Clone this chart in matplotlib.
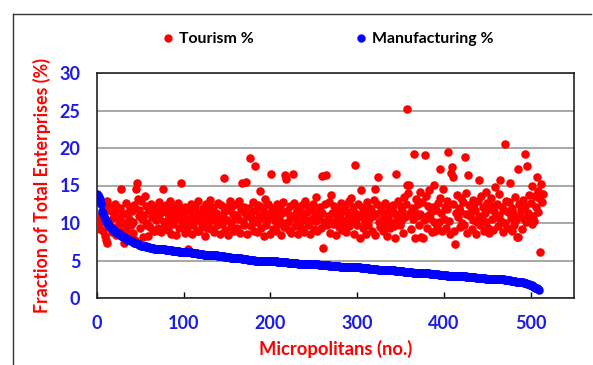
import numpy as np
import matplotlib.pyplot as plt
from matplotlib.lines import Line2D

# Tourism share of total enterprises (%), one value per micropolitan
tourism_pct = [
    9.5, 10.6, 9.8, 10.9, 9.2, 10.3, 11.0, 9.0, 12.6, 8.3, 7.7, 7.3, 12.9, 10.1, 11.8, 9.6, 12.2, 8.8, 10.7, 11.5,
    9.3, 12.5, 8.4, 10.8, 11.9, 9.9, 10.4, 12.0, 14.5, 8.9, 11.2, 7.4, 10.0, 12.7, 9.1, 11.4, 8.6, 10.6, 12.1, 9.7,
    11.6, 10.2, 8.7, 12.4, 7.8, 14.5, 15.4, 13.2, 10.9, 11.8, 9.4, 12.9, 10.5, 8.2, 11.1, 13.6, 9.8, 12.3, 10.0, 8.3,
    11.7, 9.5, 12.6, 10.8, 9.0, 11.3, 12.2, 8.9, 10.4, 11.9, 9.3, 12.8, 10.7, 11.4, 8.8, 12.0, 14.6, 10.1, 9.6, 11.5,
    12.4, 10.3, 9.1, 11.0, 12.9, 8.6, 10.8, 11.7, 9.9, 12.2, 10.5, 8.4, 11.3, 12.7, 9.4, 10.9, 11.8, 15.4, 10.2, 9.7,
    11.4, 12.1, 8.7, 10.6, 9.3, 6.6, 11.9, 10.0, 12.6, 8.5, 11.2, 9.8, 10.7, 12.3, 11.5, 9.0, 10.4, 12.9, 8.9, 11.1,
    10.3, 9.6, 12.0, 11.6, 8.3, 10.8, 12.5, 9.4, 11.3, 10.1, 13.1, 9.2, 11.8, 10.6, 12.2, 8.8, 10.9, 11.4, 9.7, 12.7,
    10.2, 11.0, 8.6, 12.4, 9.9, 10.7, 16.0, 11.5, 9.1, 12.1, 10.4, 8.4, 11.7, 13.0, 10.0, 9.5, 12.3, 11.2, 8.9, 10.8,
    12.6, 9.3, 11.1, 10.5, 12.9, 8.7, 11.9, 15.4, 10.3, 9.8, 12.2, 11.4, 15.5, 8.5, 10.9, 12.0, 18.7, 9.6, 11.3, 10.6,
    12.8, 9.0, 17.6, 11.7, 10.1, 8.8, 12.4, 11.0, 14.3, 9.4, 10.7, 12.1, 8.3, 11.5, 13.2, 9.7, 10.4, 12.6, 11.2, 8.6,
    10.9, 16.6, 12.0, 9.2, 11.8, 10.3, 8.9, 12.5, 11.1, 9.9, 10.6, 12.2, 8.4, 11.4, 10.0, 12.8, 9.5, 16.4, 15.9, 11.6,
    10.2, 9.1, 12.3, 11.0, 8.7, 10.8, 16.5, 12.7, 9.6, 11.3, 10.5, 12.0, 8.5, 11.7, 10.1, 9.3, 12.4, 11.2, 10.7, 8.8,
    12.9, 10.4, 11.5, 9.8, 12.1, 10.0, 8.6, 11.9, 10.6, 12.5, 9.2, 11.1, 10.3, 13.5, 8.9, 11.6, 10.8, 12.2, 9.4, 11.3,
    16.3, 6.7, 10.1, 12.6, 16.4, 9.7, 11.0, 12.8, 10.5, 8.7, 13.8, 11.4, 9.9, 12.3, 10.2, 11.8, 8.4, 10.9, 12.0, 9.5,
    11.2, 12.7, 10.4, 9.1, 11.7, 10.0, 12.4, 8.8, 11.5, 10.7, 12.9, 9.6, 11.0, 13.3, 10.3, 12.1, 8.5, 17.7, 11.3, 10.6,
    9.8, 12.5, 11.1, 8.0, 14.4, 10.8, 12.2, 9.4, 11.6, 10.2, 8.6, 12.8, 11.4, 9.7, 10.5, 12.0, 11.8, 9.0, 10.9, 13.1,
    14.6, 8.4, 11.2, 12.6, 16.1, 10.1, 9.5, 11.7, 12.3, 10.4, 8.9, 11.0, 12.7, 9.9, 8.3, 10.7, 11.5, 12.1, 9.3, 10.0,
    11.9, 12.4, 9.6, 11.3, 8.0, 16.5, 10.6, 12.9, 11.1, 9.8, 10.3, 12.2, 11.6, 8.7, 13.5, 10.8, 12.5, 25.2, 15.1, 14.0,
    15.1, 11.4, 9.2, 12.0, 10.5, 19.2, 11.8, 8.0, 13.2, 10.9, 12.6, 9.7, 14.1, 11.2, 8.1, 12.8, 8.0, 10.4, 19.1, 13.6,
    11.0, 9.4, 12.3, 14.4, 10.7, 11.5, 8.8, 12.1, 10.2, 15.1, 8.9, 11.7, 9.6, 12.7, 10.1, 13.4, 17.2, 11.3, 8.9, 14.6,
    10.6, 12.2, 9.3, 11.9, 13.0, 19.5, 10.3, 8.5, 16.7, 17.5, 16.2, 12.5, 9.0, 7.2, 11.4, 13.7, 10.8, 12.0, 9.5, 11.6,
    13.3, 10.0, 12.8, 9.7, 18.8, 11.2, 14.0, 8.7, 16.4, 12.4, 10.9, 11.5, 9.2, 13.1, 10.4, 12.6, 11.8, 8.6, 10.1, 12.9,
    11.0, 15.7, 9.8, 13.6, 10.6, 12.1, 8.9, 11.4, 14.2, 10.2, 12.7, 9.4, 8.7, 11.9, 13.3, 10.5, 12.3, 9.1, 11.6, 14.8,
    10.8, 12.5, 9.6, 11.1, 13.9, 15.8, 10.3, 12.2, 8.8, 11.7, 20.6, 10.0, 13.0, 9.3, 11.5, 12.8, 15.4, 10.7, 8.9, 12.0,
    11.3, 9.7, 13.5, 10.4, 8.2, 17.2, 8.1, 12.6, 10.9, 11.8, 9.2, 13.1, 10.6, 19.2, 12.3, 10.1, 17.6, 11.4, 13.8, 10.8,
    12.7, 9.9, 14.9, 11.0, 10.3, 13.6, 12.1, 16.2, 11.5, 14.3, 13.4, 6.2, 15.2, 12.8, 13.9,
]

# Manufacturing share (%), sorted descending
manufacturing_pct = [
    13.9, 13.7, 13.5, 13.2, 12.9, 12.6, 11.6, 11.2, 10.9, 10.6, 10.4, 10.2, 10.0, 9.8, 9.7, 9.5, 9.4, 9.3, 9.2, 9.1,
    9.0, 8.9, 8.8, 8.7, 8.7, 8.6, 8.5, 8.4, 8.3, 8.3, 8.2, 8.1, 8.0, 8.0, 7.9, 7.8, 7.8, 7.7, 7.7, 7.6,
    7.6, 7.5, 7.5, 7.4, 7.4, 7.3, 7.3, 7.2, 7.2, 7.1, 7.1, 7.0, 7.0, 7.0, 6.9, 6.9, 6.9, 6.8, 6.8, 6.8,
    6.8, 6.7, 6.7, 6.7, 6.7, 6.7, 6.6, 6.6, 6.6, 6.6, 6.6, 6.6, 6.5, 6.5, 6.5, 6.5, 6.5, 6.5, 6.5, 6.4,
    6.4, 6.4, 6.4, 6.4, 6.4, 6.4, 6.4, 6.3, 6.3, 6.3, 6.3, 6.3, 6.3, 6.3, 6.3, 6.2, 6.2, 6.2, 6.2, 6.2,
    6.2, 6.2, 6.1, 6.1, 6.1, 6.1, 6.1, 6.1, 6.1, 6.0, 6.0, 6.0, 6.0, 6.0, 6.0, 6.0, 5.9, 5.9, 5.9, 5.9,
    5.9, 5.9, 5.9, 5.8, 5.8, 5.8, 5.8, 5.8, 5.8, 5.8, 5.8, 5.7, 5.7, 5.7, 5.7, 5.7, 5.7, 5.7, 5.7, 5.6,
    5.6, 5.6, 5.6, 5.6, 5.6, 5.6, 5.6, 5.5, 5.5, 5.5, 5.5, 5.5, 5.5, 5.5, 5.4, 5.4, 5.4, 5.4, 5.4, 5.4,
    5.4, 5.3, 5.3, 5.3, 5.3, 5.3, 5.3, 5.2, 5.2, 5.2, 5.2, 5.2, 5.2, 5.2, 5.1, 5.1, 5.1, 5.1, 5.1, 5.1,
    5.1, 5.1, 5.0, 5.0, 5.0, 5.0, 5.0, 5.0, 5.0, 5.0, 5.0, 5.0, 4.9, 4.9, 4.9, 4.9, 4.9, 4.9, 4.9, 4.9,
    4.9, 4.9, 4.9, 4.9, 4.9, 4.9, 4.9, 4.9, 4.8, 4.8, 4.8, 4.8, 4.8, 4.8, 4.8, 4.8, 4.8, 4.8, 4.8, 4.8,
    4.7, 4.7, 4.7, 4.7, 4.7, 4.7, 4.7, 4.7, 4.7, 4.7, 4.7, 4.7, 4.6, 4.6, 4.6, 4.6, 4.6, 4.6, 4.6, 4.6,
    4.6, 4.6, 4.6, 4.6, 4.5, 4.5, 4.5, 4.5, 4.5, 4.5, 4.5, 4.5, 4.5, 4.5, 4.5, 4.5, 4.4, 4.4, 4.4, 4.4,
    4.4, 4.4, 4.4, 4.4, 4.4, 4.4, 4.4, 4.4, 4.3, 4.3, 4.3, 4.3, 4.3, 4.3, 4.3, 4.3, 4.3, 4.3, 4.3, 4.3,
    4.2, 4.2, 4.2, 4.2, 4.2, 4.2, 4.2, 4.2, 4.2, 4.2, 4.2, 4.2, 4.1, 4.1, 4.1, 4.1, 4.1, 4.1, 4.1, 4.1,
    4.1, 4.1, 4.1, 4.1, 4.0, 4.0, 4.0, 4.0, 4.0, 4.0, 4.0, 4.0, 4.0, 4.0, 3.9, 3.9, 3.9, 3.9, 3.9, 3.9,
    3.9, 3.9, 3.9, 3.9, 3.8, 3.8, 3.8, 3.8, 3.8, 3.8, 3.8, 3.8, 3.8, 3.8, 3.7, 3.7, 3.7, 3.7, 3.7, 3.7,
    3.7, 3.7, 3.7, 3.7, 3.6, 3.6, 3.6, 3.6, 3.6, 3.6, 3.6, 3.6, 3.6, 3.6, 3.5, 3.5, 3.5, 3.5, 3.5, 3.5,
    3.5, 3.5, 3.5, 3.5, 3.4, 3.4, 3.4, 3.4, 3.4, 3.4, 3.4, 3.4, 3.4, 3.4, 3.3, 3.3, 3.3, 3.3, 3.3, 3.3,
    3.3, 3.3, 3.3, 3.3, 3.2, 3.2, 3.2, 3.2, 3.2, 3.2, 3.2, 3.2, 3.2, 3.2, 3.1, 3.1, 3.1, 3.1, 3.1, 3.1,
    3.1, 3.1, 3.1, 3.1, 3.0, 3.0, 3.0, 3.0, 3.0, 3.0, 3.0, 3.0, 3.0, 3.0, 3.0, 2.9, 2.9, 2.9, 2.9, 2.9,
    2.9, 2.9, 2.9, 2.9, 2.9, 2.9, 2.8, 2.8, 2.8, 2.8, 2.8, 2.8, 2.8, 2.8, 2.8, 2.8, 2.8, 2.7, 2.7, 2.7,
    2.7, 2.7, 2.7, 2.7, 2.7, 2.7, 2.7, 2.7, 2.6, 2.6, 2.6, 2.6, 2.6, 2.6, 2.6, 2.6, 2.6, 2.6, 2.6, 2.5,
    2.5, 2.5, 2.5, 2.5, 2.5, 2.5, 2.5, 2.5, 2.5, 2.5, 2.4, 2.4, 2.4, 2.4, 2.4, 2.4, 2.4, 2.3, 2.3, 2.3,
    2.3, 2.3, 2.3, 2.2, 2.2, 2.2, 2.2, 2.2, 2.1, 2.1, 2.1, 2.1, 2.0, 2.0, 2.0, 2.0, 1.9, 1.9, 1.9, 1.8,
    1.8, 1.7, 1.6, 1.6, 1.5, 1.4, 1.4, 1.3, 1.2, 1.2, 1.1,
]

X_TICKS = [0, 100, 200, 300, 400, 500]
Y_TICKS = [0, 5, 10, 15, 20, 25, 30]

RED = "#ff0000"
BLUE = "#0000ff"
TICK_BLUE = "#1c1ce6"

plt.rcParams["font.family"] = ["Lato", "DejaVu Sans"]
plt.rcParams["font.weight"] = "bold"

fig = plt.figure(figsize=(5.93, 3.65), dpi=100)
ax = fig.add_axes([97 / 593, 1 - 298 / 365, (574 - 97) / 593, (298 - 73) / 365])

x_tour = np.arange(len(tourism_pct))
x_manu = np.arange(len(manufacturing_pct))
ax.scatter(x_tour, tourism_pct, s=38, color=RED, linewidths=0, zorder=3)
ax.scatter(x_manu, manufacturing_pct, s=38, color=BLUE, linewidths=0, zorder=4)

ax.set_xlim(0, 550)
ax.set_ylim(0, 30)
ax.set_xticks(X_TICKS)
ax.set_yticks(Y_TICKS)
ax.tick_params(axis="x", direction="in", length=4, width=1, pad=12,
               labelsize=13, labelcolor=TICK_BLUE)
ax.tick_params(axis="y", length=0, pad=12, labelsize=13, labelcolor=TICK_BLUE)
for lab in ax.get_xticklabels() + ax.get_yticklabels():
    lab.set_fontweight("bold")

ax.yaxis.grid(True, color="#a0a0a0", linewidth=1.3)
ax.set_axisbelow(True)
for sp in ax.spines.values():
    sp.set_linewidth(1.2)
    sp.set_color("#222222")

ax.set_ylabel("Fraction of Total Enterprises (%)", color=RED, fontsize=12.8,
              fontweight="bold", labelpad=6)
ax.set_xlabel("Micropolitans (no.)", color=RED, fontsize=13.2,
              fontweight="bold", labelpad=6)

# legend above the plot area
handles = [
    Line2D([], [], ls="none", marker="o", ms=5, color=RED),
    Line2D([], [], ls="none", marker="o", ms=5, color=BLUE),
]
fig.legend(handles, ["Tourism %", "Manufacturing %"], loc="center left",
           bbox_to_anchor=(155 / 593, 1 - 39 / 365), ncol=2, frameon=False,
           borderaxespad=0, handletextpad=0.3, columnspacing=6.4, handlelength=0.8,
           prop={"size": 11.4, "weight": "bold"})

# outer frame (top and left edges visible)
fig.add_artist(Line2D([13 / 593, 591 / 593], [1 - 14 / 365, 1 - 14 / 365],
                      color="#333333", lw=1))
fig.add_artist(Line2D([13 / 593, 13 / 593], [1 - 14 / 365, 0],
                      color="#333333", lw=1))

fig.savefig("out.png", dpi=100)
